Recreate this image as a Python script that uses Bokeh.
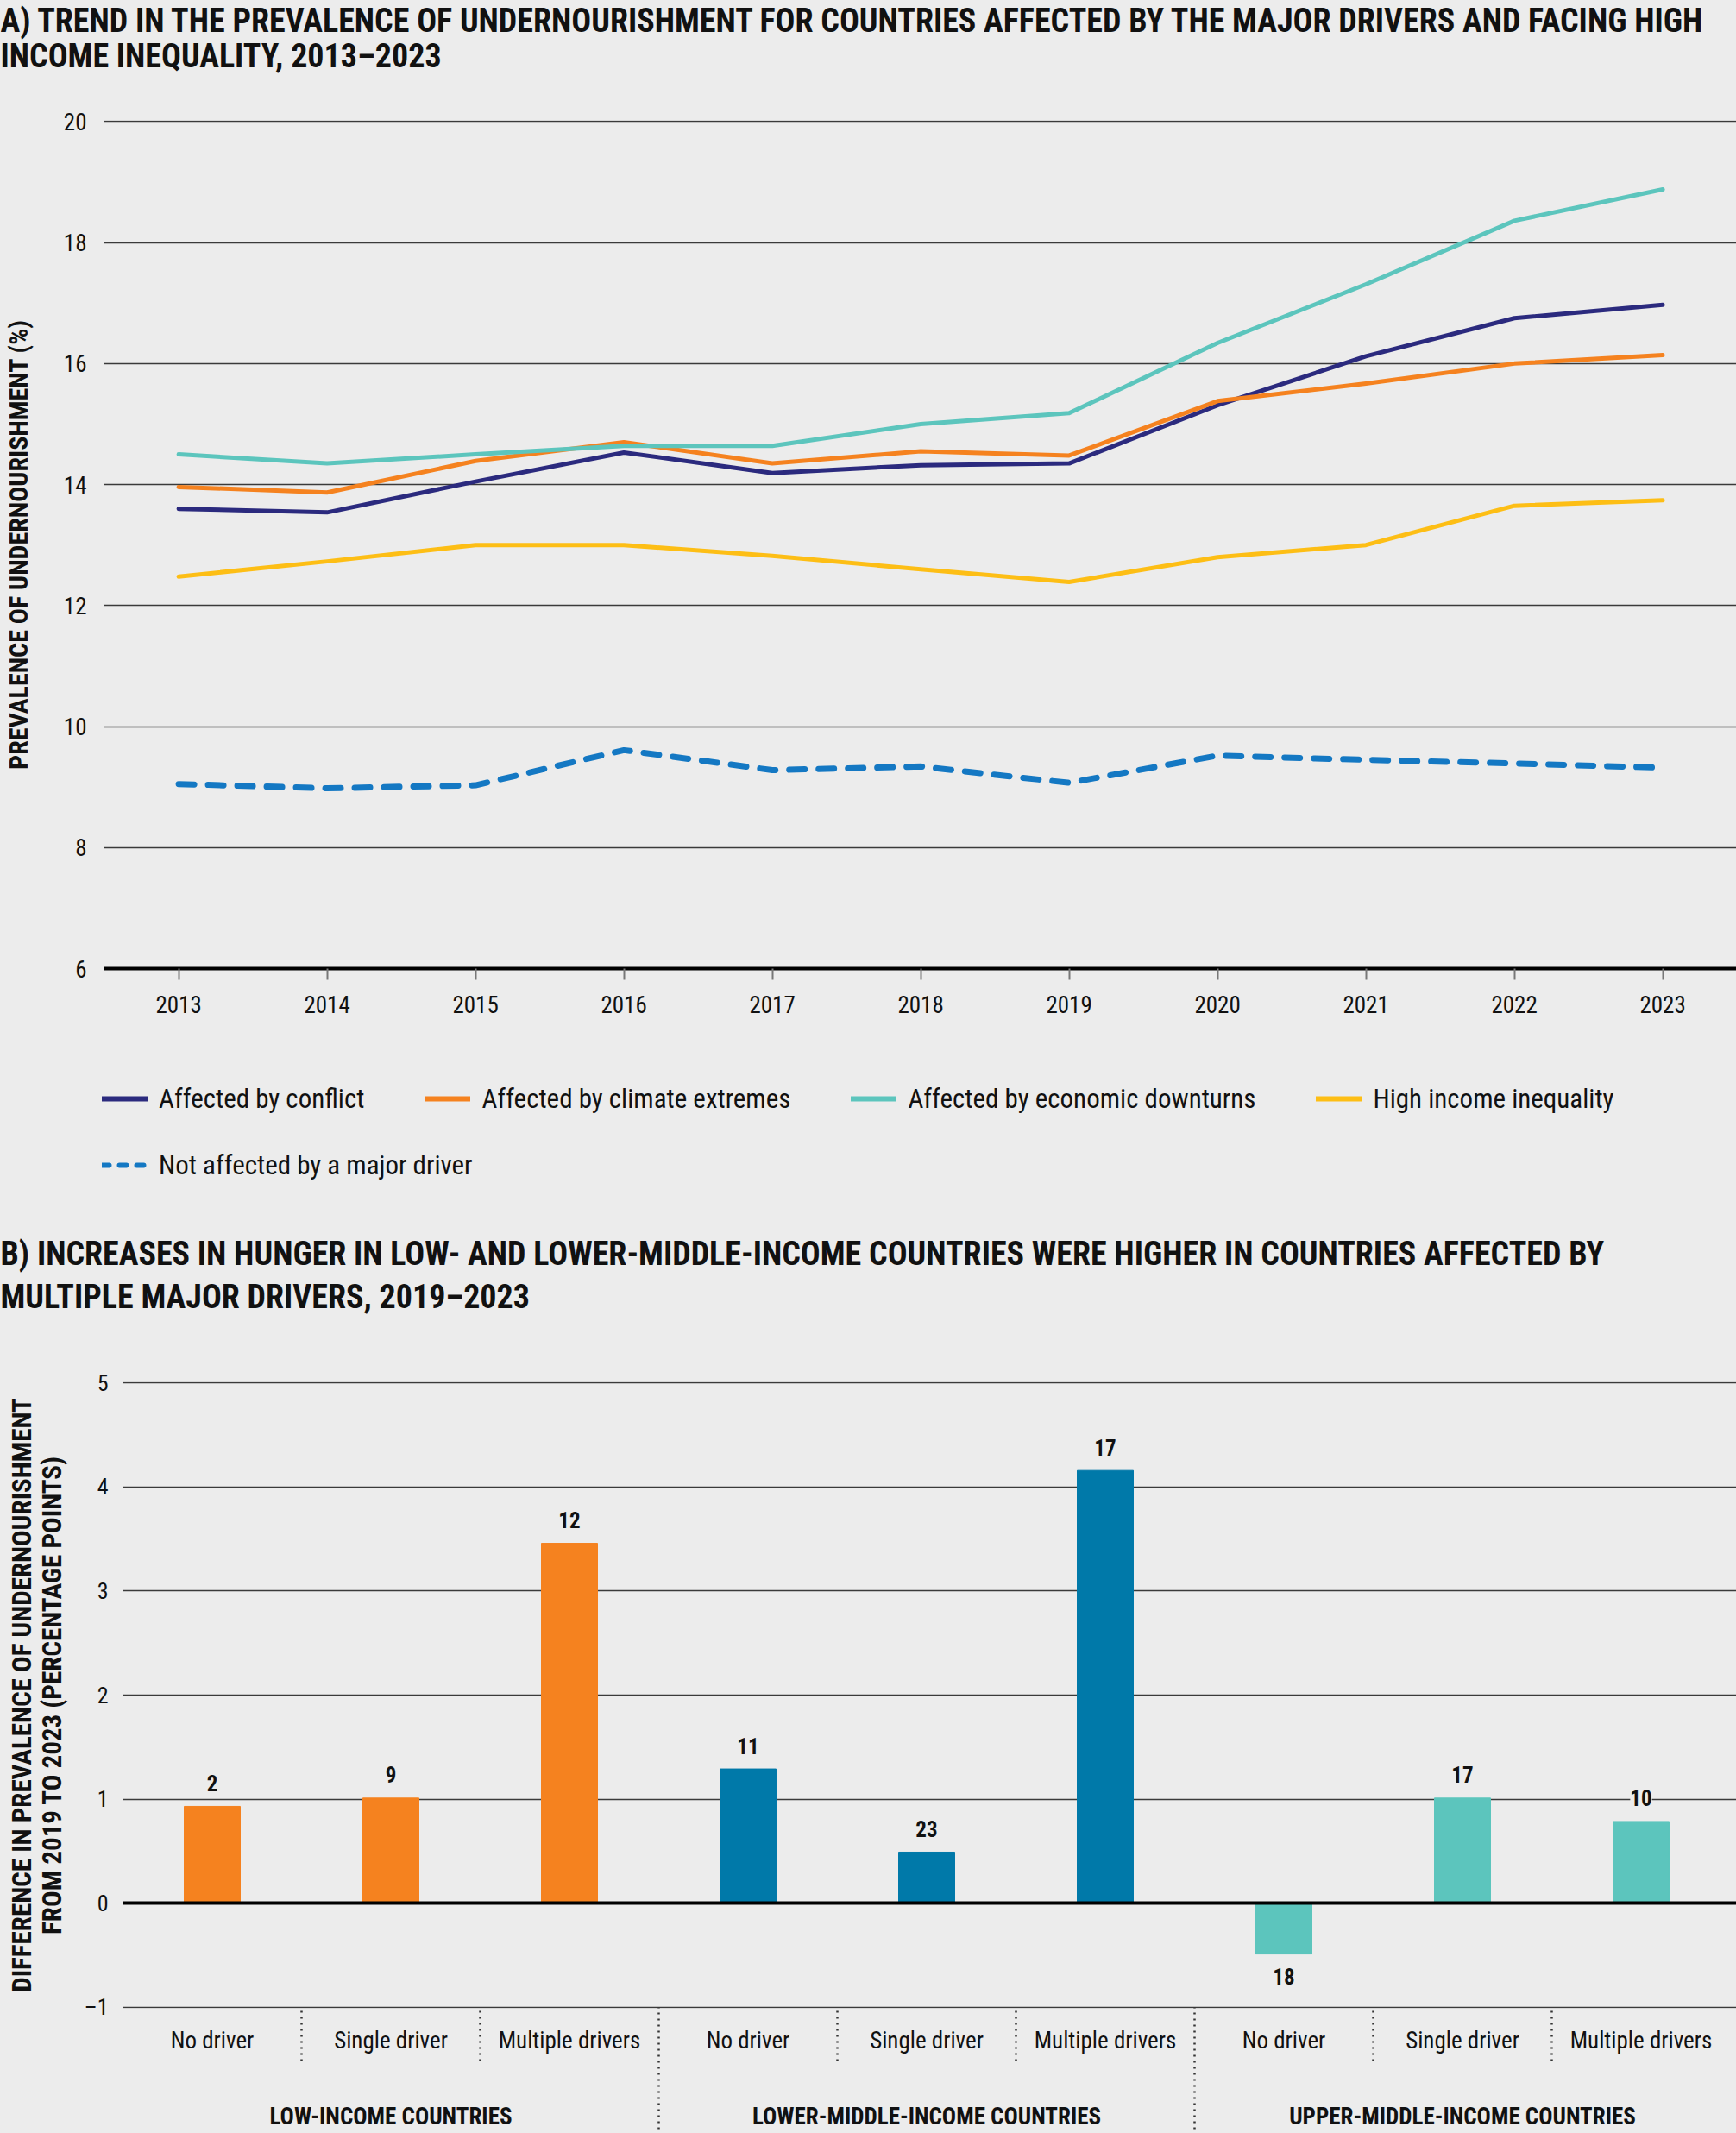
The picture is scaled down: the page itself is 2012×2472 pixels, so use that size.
from bokeh.plotting import figure
from bokeh.models import (FixedTicker, LinearAxis, Legend, LegendItem, Label, LabelSet,
                          ColumnDataSource, Range1d, Span)
from bokeh.core.properties import value
from bokeh.embed import file_html
from bokeh.resources import INLINE

# ---------------- data ----------------
years = [2013, 2014, 2015, 2016, 2017, 2018, 2019, 2020, 2021, 2022, 2023]
conflict = [13.60, 13.54, 14.05, 14.53, 14.19, 14.32, 14.35, 15.31, 16.12, 16.75, 16.97]
climate = [13.96, 13.87, 14.39, 14.70, 14.35, 14.55, 14.48, 15.38, 15.67, 16.00, 16.14]
economic = [14.50, 14.35, 14.50, 14.64, 14.64, 15.00, 15.18, 16.34, 17.31, 18.36, 18.88]
inequality = [12.48, 12.73, 13.00, 13.00, 12.82, 12.60, 12.39, 12.80, 13.00, 13.65, 13.74]
not_affected = [9.05, 8.98, 9.03, 9.61, 9.28, 9.34, 9.07, 9.52, 9.45, 9.39, 9.32]
series_names = ["Affected by conflict", "Affected by climate extremes",
                "Affected by economic downturns", "High income inequality",
                "Not affected by a major driver"]
y_ticks_a = [6, 8, 10, 12, 14, 16, 18, 20]

income_groups = ["LOW-INCOME COUNTRIES", "LOWER-MIDDLE-INCOME COUNTRIES", "UPPER-MIDDLE-INCOME COUNTRIES"]
drivers = ["No driver", "Single driver", "Multiple drivers"]
diff_low = [0.93, 1.01, 3.46]
diff_lower_middle = [1.29, 0.49, 4.16]
diff_upper_middle = [-0.49, 1.01, 0.785]
country_counts = [2, 9, 12, 11, 23, 17, 18, 17, 10]
y_ticks_b = [-1, 0, 1, 2, 3, 4, 5]

title_a = ["A) TREND IN THE PREVALENCE OF UNDERNOURISHMENT FOR COUNTRIES AFFECTED BY THE MAJOR DRIVERS AND FACING HIGH",
           "INCOME INEQUALITY, 2013\u20132023"]
title_b = ["B) INCREASES IN HUNGER IN LOW- AND LOWER-MIDDLE-INCOME COUNTRIES WERE HIGHER IN COUNTRIES AFFECTED BY",
           "MULTIPLE MAJOR DRIVERS, 2019\u20132023"]

# ---------------- style ----------------
FONT = "Liberation Sans Narrow, Roboto Condensed, DejaVu Sans Condensed, Noto Sans Condensed, Arial Narrow, Roboto"
BG = "#ececec"
TXT = "#111111"
GRID = "#3a3a3a"
NAVY = "#2b2a7e"
ORANGE = "#f5821f"
TEAL = "#5cc5bd"
YELLOW = "#fdbe15"
BLUE = "#1478c3"
DEEPBLUE = "#0079a9"
SERIES_COLORS = [NAVY, ORANGE, TEAL, YELLOW, BLUE]

W = 2012
H_TA, H_A, H_M, H_B = 100, 1090, 391, 891   # page rows: 0-100, 100-1190, 1190-1581, 1581-2472


def plain_fig(h):
    p = figure(width=W, height=h, output_backend="svg", toolbar_location=None,
               x_range=Range1d(0, 1), y_range=Range1d(0, 1),
               x_axis_location=None, y_axis_location=None,
               min_border_left=0, min_border_right=0, min_border_top=0, min_border_bottom=0,
               background_fill_color=BG, border_fill_color=BG, outline_line_color=None)
    p.xgrid.visible = False
    p.ygrid.visible = False
    return p


def title_label(p, h, txt, cy):
    p.add_layout(Label(x=0, y=h - cy, x_units="screen", y_units="screen", text=txt,
                       text_font=FONT, text_font_style="bold", text_font_size="38px",
                       text_color=TXT, text_baseline="middle", text_align="left"))


# ================= Title A =================
pt = plain_fig(H_TA)
title_label(pt, H_TA, title_a[0], 23)
title_label(pt, H_TA, title_a[1], 64)

# ================= Panel A =================
LA, TA, BA = 120, 39, 68
frame_w_a = W - LA
px_per_year = 172.0
x0 = years[0] - 86.6 / px_per_year
pa = figure(width=W, height=H_A, output_backend="svg", toolbar_location=None,
            x_range=Range1d(x0, x0 + frame_w_a / px_per_year), y_range=Range1d(6, 20.02),
            min_border_left=LA, min_border_right=0, min_border_top=TA, min_border_bottom=BA,
            background_fill_color=BG, border_fill_color=BG, outline_line_color=None)

pa.xgrid.visible = False
pa.ygrid.ticker = FixedTicker(ticks=y_ticks_a)
pa.ygrid.grid_line_color = GRID
pa.ygrid.grid_line_width = 1.5

ya = pa.yaxis[0]
ya.ticker = FixedTicker(ticks=y_ticks_a)
ya.axis_line_color = None
ya.major_tick_line_color = None
ya.minor_tick_line_color = None
ya.major_tick_out = 0
ya.major_tick_in = 0
ya.minor_tick_out = 0
ya.minor_tick_in = 0
ya.major_label_standoff = 20
ya.major_label_text_font = FONT
ya.major_label_text_font_size = "27px"
ya.major_label_text_color = TXT
ya.axis_label = "PREVALENCE OF UNDERNOURISHMENT (%)"
ya.axis_label_text_font = FONT
ya.axis_label_text_font_style = "bold"
ya.axis_label_text_font_size = "30px"
ya.axis_label_text_color = TXT
ya.axis_label_standoff = 32

xa = pa.xaxis[0]
xa.ticker = FixedTicker(ticks=years)
xa.axis_line_color = "black"
xa.axis_line_width = 4
xa.major_tick_out = 13
xa.major_tick_in = 0
xa.minor_tick_out = 0
xa.minor_tick_in = 0
xa.major_tick_line_color = "#777777"
xa.major_tick_line_width = 2
xa.minor_tick_line_color = None
xa.major_label_standoff = 18
xa.major_label_text_font = FONT
xa.major_label_text_font_size = "27px"
xa.major_label_text_color = TXT

all_series = [conflict, climate, economic, inequality, not_affected]
for vals, col in zip(all_series[:4], SERIES_COLORS[:4]):
    pa.line(years, vals, line_color=col, line_width=5, line_join="round", line_cap="round")
pa.line(years, not_affected, line_color=BLUE, line_width=7,
        line_dash="18 16", line_cap="round", line_join="round")

# ================= Legend + title B =================
pm = plain_fig(H_M)
legend_renderers = []
for i, (vals, col) in enumerate(zip(all_series, SERIES_COLORS)):
    dash = "8 12" if i == 4 else "solid"
    # same series, drawn outside this strip's visible range: only its legend glyph shows
    legend_renderers.append(pm.line(years, vals, line_color=col, line_width=6,
                                    line_cap="round", line_dash=dash))


def make_legend(items, loc):
    return Legend(items=items, location=loc, orientation="horizontal",
                  glyph_width=53, glyph_height=40, label_height=40,
                  label_standoff=13, spacing=70, padding=0, margin=0,
                  background_fill_alpha=0, border_line_alpha=0,
                  label_text_font=FONT, label_text_font_size="31px",
                  label_text_color=TXT)


row1_top = 1273 - 1190 - 20
row2_top = 1350 - 1190 - 20
leg1 = make_legend([LegendItem(label=n, renderers=[r])
                    for n, r in zip(series_names[:4], legend_renderers[:4])],
                   (118, H_M - row1_top - 40))
leg2 = make_legend([LegendItem(label=series_names[4], renderers=[legend_renderers[4]])],
                   (118, H_M - row2_top - 40))
pm.add_layout(leg1)
pm.add_layout(leg2)
title_label(pm, H_M, title_b[0], 1452 - 1190)
title_label(pm, H_M, title_b[1], 1502 - 1190)

# ================= Panel B =================
LB, TB, BB = 142, 20, 145
frame_w_b = W - LB
pb = figure(width=W, height=H_B, output_backend="svg", toolbar_location=None,
            x_range=Range1d(0, frame_w_b / 207.0), y_range=Range1d(-1.012, 5.012), x_axis_type=None,
            min_border_left=LB, min_border_right=0, min_border_top=TB, min_border_bottom=BB,
            background_fill_color=BG, border_fill_color=BG, outline_line_color=None)
pb.ygrid.ticker = FixedTicker(ticks=y_ticks_b)
pb.ygrid.grid_line_color = GRID
pb.ygrid.grid_line_width = 1.5

yb = pb.yaxis[0]
yb.ticker = FixedTicker(ticks=y_ticks_b)
yb.major_label_overrides = {-1: "\u20131"}
yb.axis_line_color = None
yb.major_tick_line_color = None
yb.minor_tick_line_color = None
yb.major_tick_out = 0
yb.major_tick_in = 0
yb.minor_tick_out = 0
yb.minor_tick_in = 0
yb.major_label_standoff = 17
yb.major_label_text_font = FONT
yb.major_label_text_font_size = "26px"
yb.major_label_text_color = TXT
yb.axis_label = "DIFFERENCE IN PREVALENCE OF UNDERNOURISHMENT\nFROM 2019 TO 2023 (PERCENTAGE POINTS)"
yb.axis_label_text_font = FONT
yb.axis_label_text_font_style = "bold"
yb.axis_label_text_font_size = "31px"
yb.axis_label_text_line_height = 0.95
yb.axis_label_text_color = TXT
yb.axis_label_standoff = 16

values = diff_low + diff_lower_middle + diff_upper_middle
n_groups = len(income_groups)
n_drv = len(drivers)
xs = [i + 0.5 for i in range(len(values))]
colors = [c for c in (ORANGE, DEEPBLUE, TEAL) for _ in range(n_drv)]
src = ColumnDataSource(dict(x=xs, top=values, color=colors))
pb.vbar(x="x", top="top", bottom=0, width=0.314, color="color", source=src)
pb.add_layout(Span(location=0, dimension="width", line_color="black", line_width=4))

pos = [i for i, v in enumerate(values) if v >= 0]
neg = [i for i, v in enumerate(values) if v < 0]
for idx, off in [(pos, 27), (neg, -26)]:
    s = ColumnDataSource(dict(x=[xs[i] for i in idx], y=[values[i] for i in idx],
                              t=[str(country_counts[i]) for i in idx]))
    pb.add_layout(LabelSet(x="x", y="y", text="t", source=s, y_offset=off,
                           text_align="center", text_baseline="middle",
                           text_font=value(FONT), text_font_style="bold", text_font_size="25px",
                           text_color=TXT, background_fill_color=BG))

# category axis (driver labels + dotted separators)
cat_labels = {x: d for x, d in zip(xs, drivers * n_groups)}
sep_minor = [i for i in range(1, len(values)) if i % n_drv != 0]
ax1 = LinearAxis(ticker=FixedTicker(ticks=xs, minor_ticks=sep_minor),
                 major_label_overrides=cat_labels)
ax1.axis_line_color = None
ax1.major_tick_line_color = None
ax1.major_tick_out = 0
ax1.major_tick_in = 0
ax1.minor_tick_in = 0
ax1.minor_tick_out = 61
ax1.minor_tick_line_color = "#333333"
ax1.minor_tick_line_width = 2.5
ax1.minor_tick_line_dash = "2 5"
ax1.major_label_standoff = -40
ax1.major_label_text_font = FONT
ax1.major_label_text_font_size = "27px"
ax1.major_label_text_color = TXT
pb.add_layout(ax1, "below")

# income-group axis (group labels + long dotted separators)
grp_ticks = [g * n_drv + n_drv / 2 for g in range(n_groups)]
grp_labels = {x: g for x, g in zip(grp_ticks, income_groups)}
grp_sep = [g * n_drv for g in range(1, n_groups)]
ax2 = LinearAxis(ticker=FixedTicker(ticks=grp_ticks, minor_ticks=grp_sep),
                 major_label_overrides=grp_labels)
ax2.axis_line_color = None
ax2.major_tick_line_color = None
ax2.major_tick_out = 0
ax2.major_tick_in = 0
ax2.minor_tick_in = 57
ax2.minor_tick_out = 84
ax2.minor_tick_line_color = "#333333"
ax2.minor_tick_line_width = 2.5
ax2.minor_tick_line_dash = "2 5"
ax2.major_label_standoff = -31
ax2.major_label_text_font = FONT
ax2.major_label_text_font_style = "bold"
ax2.major_label_text_font_size = "27px"
ax2.major_label_text_color = TXT
pb.add_layout(ax2, "below")

# separate roots so that the figures' frames are not aligned with one another
html = file_html([pt, pa, pm, pb], INLINE)
html = html.replace("</head>",
                    "<style>html,body{background:#ececec;}body{font-size:0;line-height:0;}</style></head>", 1)
open("out.html", "w").write(html)
